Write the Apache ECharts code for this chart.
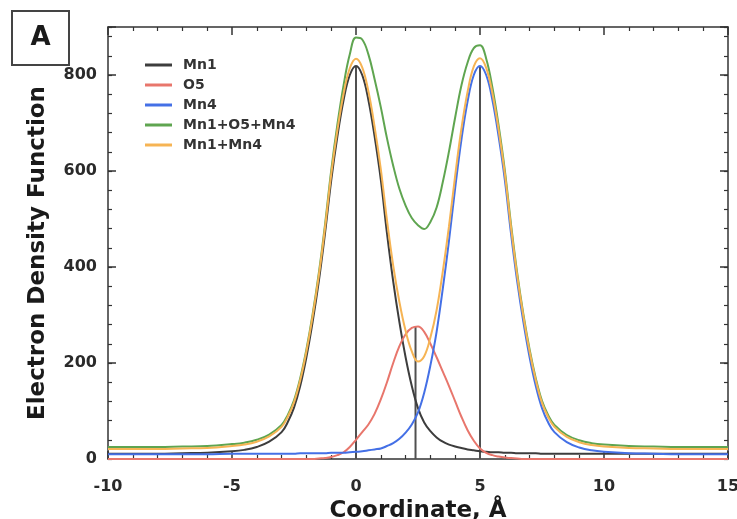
<!DOCTYPE html>
<html><head><meta charset="utf-8">
<script src="https://cdn.jsdelivr.net/npm/echarts@6/dist/echarts.min.js"></script>
<style>html,body{margin:0;padding:0;background:#fff}#c{width:737px;height:519px}</style>
</head><body><div id="c"></div>
<script>
const xs = [-10,-9,-8,-7,-6,-5,-4.5,-4,-3.5,-3,
  -2.75,-2.5,-2.25,-2,-1.75,-1.5,-1.25,-1,-0.75,-0.5,
  -0.25,0,0.25,0.5,0.75,1,1.25,1.5,1.75,2,
  2.25,2.5,2.75,3,3.25,3.5,3.75,4,4.25,4.5,
  4.75,5,5.25,5.5,5.75,6,6.25,6.5,6.75,7,
  7.25,7.5,7.75,8,
  8.5,9,9.5,10,11,12,13,14,15];
const mn1 = [11,11,11,12,13,16,19,25,36,56,
  77,107,152,212,285,370,470,580,672,748,
  800,819,800,748,672,582,470,370,285,212,
  152,106,76,58,45,36,30,26,23,20,
  18,16,15,14,14,13,13,12,12,12,
  12,11,11,11,
  11,11,11,11,11,11,11,11,11];
const o5 = [0,0,0,0,0,0,0,0,0,0,
  0,0,0,0,0,1,2,4,8,14,
  25,40,56,72,94,124,160,200,235,260,
  273,276,265,240,212,182,152,120,88,60,
  38,22,13,8,5,3,2,1,0,0,
  0,0,0,0,
  0,0,0,0,0,0,0,0,0];
const mn4 = [10,10,10,10,10,11,11,11,11,11,
  11,11,12,12,12,12,12,13,13,13,
  14,15,16,18,20,22,27,33,42,55,
  72,97,138,195,265,355,455,565,665,745,
  800,819,800,748,672,582,470,370,285,212,
  152,106,76,56,
  35,24,18,15,12,11,10,10,10];
const mn1o5mn4 = [25,25,25,26,27,31,34,40,51,71,
  92,122,168,228,301,387,488,601,697,779,
  843,878,874,843,791,733,668,611,563,528,
  502,487,479,494,524,577,641,712,778,826,
  856,862,834,774,695,602,489,387,301,228,
  168,121,91,71,
  50,39,33,30,27,26,25,25,25];
const mn1mn4 = [21,21,21,22,23,27,30,36,47,67,
  88,118,164,224,297,382,482,593,685,761,
  814,834,816,766,692,604,497,403,327,267,
  224,203,214,253,310,391,485,591,688,765,
  818,835,815,762,686,595,483,382,297,224,
  164,117,87,67,
  46,35,29,26,23,22,21,21,21];
const stickX = [0, 2.4, 5];
const stickTop = [819, 276, 819];
const xTickLabels = [-10, -5, 0, 5, 10, 15];
const yTickLabels = [0, 200, 400, 600, 800];
const seriesNames = ['Mn1', 'O5', 'Mn4', 'Mn1+O5+Mn4', 'Mn1+Mn4'];
const seriesData = [mn1, o5, mn4, mn1o5mn4, mn1mn4];
const colors = ['#3d3d3d', '#e8766c', '#4470e6', '#5fa550', '#f6b454'];

const pair = a => xs.map((x, i) => [x, a[i]]);
const FONT = 'DejaVu Sans';
const axisCol = '#333';
const lineS = {color: axisCol, width: 1.5};

function xAx(pos, major) {
  return {
    type: 'value', position: pos, min: xTickLabels[0], max: xTickLabels[xTickLabels.length - 1], interval: 5,
    axisLine: {show: true, onZero: false, lineStyle: lineS},
    axisTick: {show: true, inside: true, length: 8, lineStyle: lineS},
    minorTick: {show: true, splitNumber: 5, length: 4, lineStyle: {color: axisCol, width: 1.2}},
    splitLine: {show: false},
    axisLabel: major ? {show: true, margin: 20, fontFamily: FONT, fontWeight: 'bold', fontSize: 16, color: '#2a2a2a'} : {show: false},
    name: major ? 'Coordinate, Å' : '', nameLocation: 'middle', nameGap: 38,
    nameTextStyle: {fontFamily: FONT, fontWeight: 'bold', fontSize: 23, color: '#1a1a1a'}
  };
}
function yAx(pos, major, minorOnly) {
  return {
    type: 'value', position: pos, min: 0, max: 900, interval: minorOnly ? 40 : 200,
    axisLine: {show: !minorOnly, onZero: false, lineStyle: lineS},
    axisTick: {show: true, inside: true, length: minorOnly ? 4 : 8, lineStyle: minorOnly ? {color: axisCol, width: 1.2} : lineS},
    splitLine: {show: false},
    axisLabel: major ? {show: true, margin: 11, fontFamily: FONT, fontWeight: 'bold', fontSize: 16, color: '#2a2a2a',
      formatter: v => yTickLabels.includes(v) ? String(v) : ''} : {show: false}
  };
}

const series = [];
stickX.forEach((x, i) => {
  series.push({type: 'line', name: 'stick' + i, data: [[x, 0], [x, stickTop[i]]], symbol: 'none',
    lineStyle: {color: '#505050', width: 2}, silent: true, z: 1, xAxisIndex: 0, yAxisIndex: 0});
});
seriesNames.forEach((n, i) => {
  series.push({type: 'line', name: n, data: pair(seriesData[i]), smooth: 0.4, symbol: 'none',
    lineStyle: {color: colors[i], width: 2}, itemStyle: {color: colors[i]}, z: 2 + i, xAxisIndex: 0, yAxisIndex: 0});
});

const chart = echarts.init(document.getElementById('c'));
chart.setOption({
  animation: false,
  backgroundColor: '#fff',
  grid: {left: 108, right: 9, top: 27, bottom: 60, containLabel: false, outerBoundsMode: 'none'},
  xAxis: [xAx('bottom', true), xAx('top', false)],
  yAxis: [yAx('left', true, false), yAx('left', false, true), yAx('right', false, false), yAx('right', false, true)],
  legend: {
    data: seriesNames, orient: 'vertical', left: 145, top: 57, icon: 'rect', padding: 0,
    itemWidth: 27, itemHeight: 3, itemGap: 4,
    textStyle: {fontFamily: FONT, fontWeight: 'bold', fontSize: 14, color: '#333', lineHeight: 16, padding: [0, 0, 0, 6]}
  },
  graphic: [
    {type: 'rect', shape: {x: 12, y: 11, width: 57, height: 54}, style: {fill: '#fff', stroke: '#444', lineWidth: 2}},
    {type: 'text', x: 40.5, y: 38, style: {text: 'A', fontFamily: FONT, fontWeight: 'bold', fontSize: 26, fill: '#1a1a1a', textAlign: 'center', textVerticalAlign: 'middle'}},
    {type: 'text', x: 38, y: 253, rotation: Math.PI / 2, style: {text: 'Electron Density Function', fontFamily: FONT, fontWeight: 'bold', fontSize: 23, fill: '#1a1a1a', textAlign: 'center', textVerticalAlign: 'middle'}}
  ],
  series: series
});
</script></body></html>
